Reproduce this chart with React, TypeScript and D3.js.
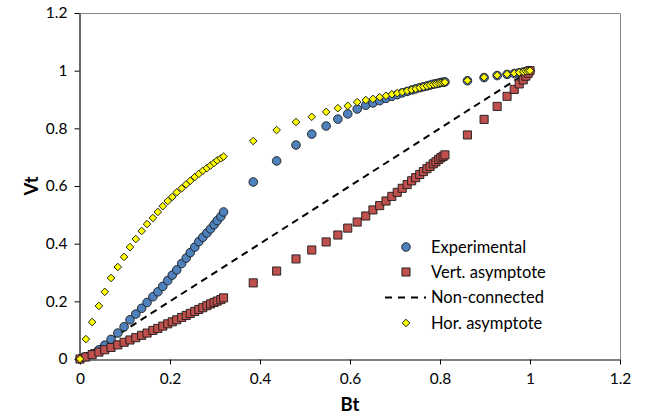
import React, { useEffect, useRef } from 'react';
import * as d3 from 'd3';

// Bt values shared by all three marker series
const bt = [
  0, 0.013, 0.027, 0.042, 0.055, 0.069, 0.084, 0.098, 0.111, 0.124,
  0.137, 0.149, 0.162, 0.173, 0.184, 0.195, 0.205, 0.215, 0.226, 0.236,
  0.245, 0.255, 0.264, 0.273, 0.282, 0.29, 0.298, 0.305, 0.313, 0.319,
  0.385, 0.437, 0.48, 0.515, 0.547, 0.573, 0.595, 0.616, 0.635, 0.651,
  0.666, 0.68, 0.693, 0.705, 0.716, 0.727, 0.737, 0.746, 0.755, 0.763,
  0.771, 0.778, 0.785, 0.791, 0.797, 0.802, 0.807, 0.811,
  0.861, 0.898, 0.927, 0.949, 0.965, 0.976, 0.985, 0.991, 0.996, 1.0,
];

const experimental = [
  0, 0.008, 0.018, 0.032, 0.048, 0.068, 0.09, 0.112, 0.136, 0.156,
  0.176, 0.196, 0.216, 0.233, 0.252, 0.272, 0.291, 0.309, 0.331, 0.35,
  0.369, 0.388, 0.407, 0.422, 0.437, 0.451, 0.466, 0.48, 0.494, 0.51,
  0.614, 0.687, 0.742, 0.78, 0.808, 0.832, 0.85, 0.867, 0.88, 0.888,
  0.896, 0.904, 0.911, 0.917, 0.923, 0.928, 0.933, 0.937, 0.941, 0.944,
  0.947, 0.95, 0.953, 0.955, 0.957, 0.959, 0.96, 0.961,
  0.965, 0.976, 0.983, 0.987, 0.99, 0.993, 0.995, 0.997, 0.999, 1.0,
];

const vertAsymptote = [
  0, 0.007, 0.015, 0.024, 0.032, 0.04, 0.049, 0.058, 0.066, 0.074,
  0.082, 0.09, 0.099, 0.106, 0.114, 0.122, 0.129, 0.136, 0.144, 0.151,
  0.158, 0.165, 0.172, 0.178, 0.185, 0.191, 0.196, 0.201, 0.206, 0.212,
  0.264, 0.305, 0.347, 0.378, 0.406, 0.43, 0.454, 0.475, 0.496, 0.517,
  0.532, 0.548, 0.564, 0.578, 0.592, 0.605, 0.618, 0.629, 0.64, 0.65,
  0.66, 0.668, 0.677, 0.684, 0.692, 0.698, 0.703, 0.708,
  0.777, 0.831, 0.876, 0.911, 0.935, 0.954, 0.968, 0.981, 0.991, 1.0,
];

const horAsymptote = [
  0, 0.069, 0.128, 0.184, 0.233, 0.281, 0.319, 0.354, 0.388, 0.416,
  0.444, 0.468, 0.489, 0.51, 0.53, 0.548, 0.562, 0.578, 0.592, 0.606,
  0.618, 0.631, 0.642, 0.653, 0.662, 0.671, 0.68, 0.689, 0.696, 0.702,
  0.756, 0.794, 0.822, 0.84, 0.857, 0.87, 0.878, 0.891, 0.898, 0.902,
  0.908, 0.913, 0.918, 0.922, 0.926, 0.93, 0.934, 0.937, 0.941, 0.944,
  0.947, 0.95, 0.952, 0.954, 0.956, 0.958, 0.959, 0.96,
  0.966, 0.977, 0.984, 0.988, 0.991, 0.994, 0.996, 0.998, 0.999, 1.0,
];

// straight dashed reference line
const nonConnectedBt = [0, 1];
const nonConnectedVt = [0, 1];

const tickValues = [0, 0.2, 0.4, 0.6, 0.8, 1, 1.2];
const legendLabels = ['Experimental', 'Vert. asymptote', 'Non-connected', 'Hor. asymptote'];

const W = 653;
const H = 418;
const FONT = 'Lato, "Liberation Sans", sans-serif';

export default function App() {
  const ref = useRef<SVGSVGElement>(null);

  useEffect(() => {
    if (!ref.current) return;
    const svg = d3.select(ref.current);
    svg.selectAll('*').remove();

    const x = d3.scaleLinear().domain([0, 1.2]).range([80, 620]);
    const y = d3.scaleLinear().domain([0, 1.2]).range([359, 13]);

    // plot frame (top/right in grey)
    svg.append('path')
      .attr('d', `M${x(0)},${y(1.2) + 0.5}H${x(1.2) + 0.5}V${y(0)}`)
      .attr('fill', 'none')
      .attr('stroke', '#868686')
      .attr('stroke-width', 1);

    const fmt = (d: any) => String(+(+d).toFixed(1));

    const gx = svg.append('g')
      .attr('transform', `translate(0,${y(0) + 0.5})`)
      .call(d3.axisBottom(x).tickValues(tickValues).tickFormat(fmt).tickSizeInner(5).tickSizeOuter(0).tickPadding(8));
    const gy = svg.append('g')
      .attr('transform', `translate(${x(0) - 0.5},0)`)
      .call(d3.axisLeft(y).tickValues(tickValues).tickFormat(fmt).tickSizeInner(5).tickSizeOuter(0).tickPadding(7));

    [gx, gy].forEach(g => {
      g.select('.domain').attr('stroke', '#000').attr('stroke-width', 1.2);
      g.selectAll('.tick line').attr('stroke', '#000');
      g.selectAll('.tick text')
        .attr('font-family', FONT)
        .attr('font-size', 15.5)
        .attr('fill', '#000');
    });

    // axis titles
    svg.append('text')
      .attr('x', (x(0) + x(1.2)) / 2)
      .attr('y', 411)
      .attr('text-anchor', 'middle')
      .attr('font-family', FONT)
      .attr('font-weight', 'bold')
      .attr('font-size', 18.5)
      .text('Bt');
    svg.append('text')
      .attr('transform', `translate(38,${(y(0) + y(1.2)) / 2}) rotate(-90)`)
      .attr('text-anchor', 'middle')
      .attr('font-family', FONT)
      .attr('font-weight', 'bold')
      .attr('font-size', 18.5)
      .text('Vt');

    // dashed line
    const line = d3.line<number>()
      .x((_, i) => x(nonConnectedBt[i]))
      .y(d => y(d));
    svg.append('path')
      .datum(nonConnectedVt)
      .attr('d', line)
      .attr('fill', 'none')
      .attr('stroke', '#000')
      .attr('stroke-width', 2)
      .attr('stroke-dasharray', '7,5');

    const circle = d3.symbol(d3.symbolCircle, 58);
    const square = d3.symbol(d3.symbolSquare, 66);
    const diamond = d3.symbol(d3.symbolSquare, 29);

    svg.append('g').selectAll('path')
      .data(experimental)
      .join('path')
      .attr('d', circle)
      .attr('transform', (d, i) => `translate(${x(bt[i])},${y(d)})`)
      .attr('fill', '#4F81BD')
      .attr('stroke', '#1a1a1a')
      .attr('stroke-width', 0.9);

    svg.append('g').selectAll('path')
      .data(vertAsymptote)
      .join('path')
      .attr('d', square)
      .attr('transform', (d, i) => `translate(${x(bt[i])},${y(d)})`)
      .attr('fill', '#C0504D')
      .attr('stroke', '#1a1a1a')
      .attr('stroke-width', 0.9);

    svg.append('g').selectAll('path')
      .data(horAsymptote)
      .join('path')
      .attr('d', diamond)
      .attr('transform', (d, i) => `translate(${x(bt[i])},${y(d)}) rotate(45)`)
      .attr('fill', '#FFFF00')
      .attr('stroke', '#1a1a1a')
      .attr('stroke-width', 0.9);

    // legend
    const lg = svg.append('g');
    const rowY = [247, 272, 297.5, 323];
    const mx = 406;
    lg.append('path').attr('d', circle).attr('transform', `translate(${mx},${rowY[0]})`)
      .attr('fill', '#4F81BD').attr('stroke', '#1a1a1a').attr('stroke-width', 0.9);
    lg.append('path').attr('d', square).attr('transform', `translate(${mx},${rowY[1]})`)
      .attr('fill', '#C0504D').attr('stroke', '#1a1a1a').attr('stroke-width', 0.9);
    lg.append('line').attr('x1', 385).attr('x2', 426).attr('y1', rowY[2]).attr('y2', rowY[2])
      .attr('stroke', '#000').attr('stroke-width', 2).attr('stroke-dasharray', '7,6');
    lg.append('path').attr('d', diamond).attr('transform', `translate(${mx},${rowY[3]}) rotate(45)`)
      .attr('fill', '#FFFF00').attr('stroke', '#1a1a1a').attr('stroke-width', 0.9);
    lg.selectAll('text')
      .data(legendLabels)
      .join('text')
      .attr('x', 431)
      .attr('y', (_, i) => rowY[i])
      .attr('dy', '0.35em')
      .attr('font-family', FONT)
      .attr('font-size', 16.5)
      .attr('fill', '#000')
      .text(d => d);
  }, []);

  return (
    <div style={{ position: 'absolute', left: 0, top: 0, width: W, height: H, background: '#fff' }}>
      <svg ref={ref} width={W} height={H} viewBox={`0 0 ${W} ${H}`} />
    </div>
  );
}
